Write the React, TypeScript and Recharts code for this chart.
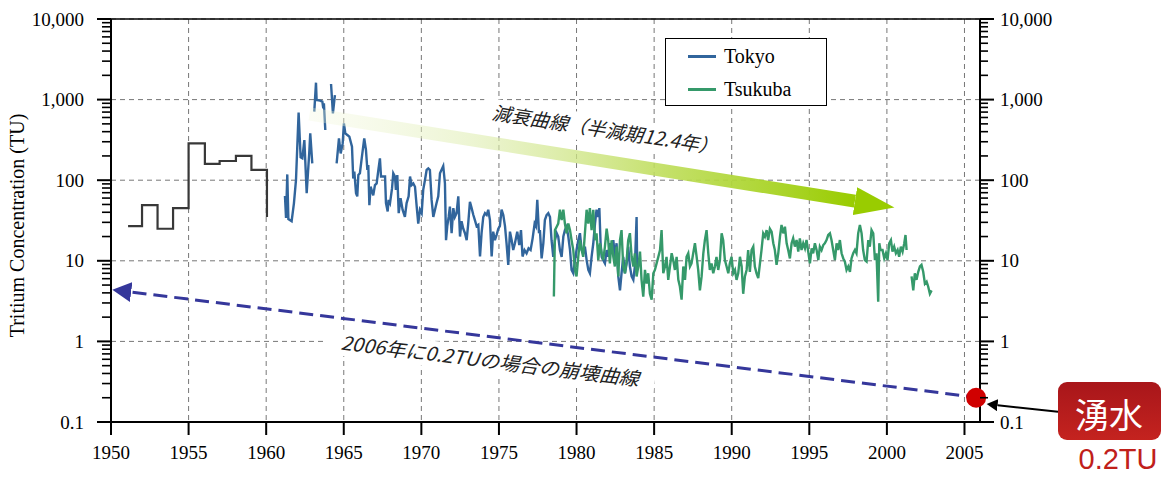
import { LineChart, Line, XAxis, YAxis, CartesianGrid, ReferenceLine, ReferenceDot, Legend } from 'recharts'

const SERIF = '"Liberation Serif", "Times New Roman", serif'
const JP = '"Noto Sans CJK JP", sans-serif'

const X_TICKS = [1950, 1955, 1960, 1965, 1970, 1975, 1980, 1985, 1990, 1995, 2000, 2005]
const Y_MAJOR = [0.1, 1, 10, 100, 1000, 10000]
const MINOR_STEPS = [2, 3, 4, 5, 6, 7, 8, 9]
const Y_TICKS = [...Y_MAJOR, ...Y_MAJOR.slice(0, -1).flatMap((d) => MINOR_STEPS.map((m) => d * m))]

// [year, TU] -- yearly precipitation estimates before 1961
const fallout1950s: [number, number][] = [
  [1951.1, 27], [1952, 49], [1953, 25], [1954, 45], [1955, 287],
  [1956.05, 159], [1957, 173], [1958.05, 200], [1959.05, 134], [1960.05, 35],
]

const tokyo: [number, number | null][] = [
  [1961.21, 64], [1961.28, 34], [1961.36, 118], [1961.43, 33], [1961.64, 31], [1961.79, 52], [1961.92, 100],
  [1962.09, 689], [1962.22, 192], [1962.33, 187], [1962.46, 315], [1962.61, 69], [1962.78, 226], [1962.84, 381],
  [1962.97, 162], [1963.03, null],
  [1963.10, 708], [1963.21, 1622], [1963.25, 988], [1963.47, 970], [1963.62, 942], [1963.68, 778], [1963.72, 898],
  [1963.81, 420], [1964.0, null],
  [1964.18, 1560], [1964.30, 675], [1964.43, 1140], [1964.49, null],
  [1964.54, 162], [1964.69, 330], [1964.80, 215], [1964.93, 286], [1965.01, 507], [1965.10, 381], [1965.23, 364],
  [1965.36, 347], [1965.53, 261], [1965.61, 105], [1965.68, 128], [1965.79, 69], [1965.87, 63], [1965.94, 116],
  [1966.04, 122], [1966.17, 196], [1966.32, 330], [1966.43, 237], [1966.52, 134], [1966.58, 154], [1966.65, 49],
  [1966.73, 83], [1966.90, 65], [1967.01, 87], [1967.12, 91], [1967.23, 134], [1967.33, 187], [1967.40, 111],
  [1967.66, 111], [1967.72, 52], [1967.83, 41], [1967.89, 57], [1967.98, 52], [1968.11, 79], [1968.19, 122],
  [1968.30, 111], [1968.36, 76], [1968.45, 116], [1968.54, 39], [1968.66, 60], [1968.79, 43], [1968.94, 35],
  [1969.05, 52], [1969.18, 63], [1969.27, 111], [1969.37, 87], [1969.48, 91], [1969.59, 83], [1969.70, 47],
  [1969.80, 29], [1969.91, 43], [1970.02, 39], [1970.12, 76], [1970.23, 100], [1970.34, 134], [1970.45, 140],
  [1970.55, 134], [1970.66, 57], [1970.77, 35], [1970.88, 43], [1970.98, 52], [1971.09, 63], [1971.20, 122],
  [1971.41, 150], [1971.52, 91], [1971.59, 18], [1971.67, 27], [1971.76, 35], [1971.84, 47], [1971.95, 22],
  [1972.06, 45], [1972.16, 35], [1972.27, 39], [1972.38, 63], [1972.49, 20], [1972.59, 31], [1972.70, 25],
  [1972.81, 22], [1972.92, 18], [1973.02, 29], [1973.13, 54], [1973.24, 45], [1973.35, 37], [1973.45, 32],
  [1973.56, 27], [1973.67, 28], [1973.78, 11.3], [1973.88, 22], [1973.99, 35], [1974.10, 39], [1974.21, 37],
  [1974.31, 43], [1974.42, 32], [1974.53, 11.3], [1974.63, 23], [1974.74, 18], [1974.85, 21], [1974.96, 25],
  [1975.06, 27], [1975.17, 43], [1975.28, 37], [1975.39, 27], [1975.49, 16.5], [1975.60, 8.9], [1975.71, 23],
  [1975.82, 18], [1975.92, 13.6], [1976.03, 16.5], [1976.18, 23], [1976.31, 15.7], [1976.42, 24], [1976.52, 11.3],
  [1976.65, 13.6], [1976.78, 12.4], [1976.91, 14.3], [1977.04, 13.6], [1977.17, 19], [1977.30, 29], [1977.38, 27],
  [1977.47, 57], [1977.58, 22], [1977.64, 24], [1977.75, 10.7], [1977.86, 16.5], [1977.96, 32], [1978.07, 37],
  [1978.18, 39], [1978.29, 35], [1978.39, 18], [1978.50, 11.2], [1978.61, 18], [1978.72, 22], [1978.82, 20],
  [1978.93, 13.6], [1979.04, 11.2], [1979.15, 20], [1979.25, 24], [1979.36, 26.5], [1979.47, 20], [1979.58, 13.6],
  [1979.68, 7.7], [1979.79, 7.0], [1979.90, 10.2], [1980.00, 13.6], [1980.11, 18], [1980.22, 22], [1980.33, 13.6],
  [1980.43, 12.4], [1980.54, 15], [1980.65, 10.2], [1980.76, 7.7], [1980.86, 7.0], [1980.97, 11.2], [1981.08, 16.5],
  [1981.19, 29], [1981.29, 43], [1981.40, 35], [1981.47, 45], [1981.55, 16.5], [1981.62, 11.2], [1981.72, 10.2],
  [1981.83, 9.3], [1981.94, 13.6], [1982.04, 11.2], [1982.15, 16.5], [1982.26, 13.6], [1982.37, 18], [1982.47, 11.2],
  [1982.58, 16.5], [1982.69, 6.4], [1982.80, 4.3], [1982.90, 7.0], [1983.01, 11.2], [1983.12, 7.0], [1983.23, 9.3],
  [1983.33, 15], [1983.44, 8.5], [1983.55, 6.4], [1983.66, 5.8], [1983.76, 8.5], [1983.87, 35], [1983.91, 7.7],
]

const tsukuba: [number, number | null][] = [
  [1978.54, 3.6], [1978.61, 24], [1978.72, 26.5], [1978.82, 29], [1978.93, 43], [1979.04, 32], [1979.15, 43],
  [1979.25, 29], [1979.36, 22], [1979.47, 29], [1979.58, 24], [1979.68, 18], [1979.79, 13.6], [1979.90, 7.7],
  [1980.00, 6.4], [1980.11, 11.2], [1980.22, 18], [1980.33, 13.6], [1980.43, 11.2], [1980.54, 22], [1980.65, 43],
  [1980.76, 29], [1980.86, 45], [1980.97, 24], [1981.08, 43], [1981.19, 18], [1981.29, 22], [1981.40, 10.2],
  [1981.51, 16.5], [1981.62, 12.4], [1981.72, 10.2], [1981.83, 15], [1981.94, 25], [1982.04, 18], [1982.15, 9.3],
  [1982.26, 18], [1982.37, 11.2], [1982.47, 8.5], [1982.58, 15], [1982.69, 6.4], [1982.80, 18], [1982.90, 24],
  [1983.01, 8.5], [1983.12, 7.0], [1983.23, 10.2], [1983.33, 18], [1983.44, 22], [1983.55, 11.2], [1983.66, 8.5],
  [1983.76, 12.4], [1983.87, 6.4], [1983.98, 8.5], [1984.09, 13], [1984.19, 5.8], [1984.30, 3.6], [1984.41, 7.7],
  [1984.52, 5.2], [1984.62, 7.0], [1984.73, 3.9], [1984.84, 3.3], [1984.95, 7.0], [1985.05, 7.7], [1985.16, 9.3],
  [1985.27, 11.2], [1985.38, 13.6], [1985.48, 24], [1985.59, 7.0], [1985.70, 8.5], [1985.80, 11.2], [1985.91, 5.8],
  [1986.02, 8.5], [1986.13, 12.4], [1986.23, 10.2], [1986.34, 7.7], [1986.45, 11.2], [1986.56, 5.8], [1986.66, 4.8],
  [1986.77, 3.3], [1986.88, 8.5], [1986.99, 5.8], [1987.09, 11.2], [1987.20, 12.4], [1987.31, 8.5], [1987.41, 9.3],
  [1987.52, 12.4], [1987.63, 16.5], [1987.74, 11.2], [1987.84, 7.7], [1987.95, 4.3], [1988.06, 6.4], [1988.17, 12.4],
  [1988.27, 18], [1988.38, 24], [1988.49, 12.4], [1988.59, 7.7], [1988.70, 9.3], [1988.81, 7.0], [1988.92, 8.5],
  [1989.02, 11.2], [1989.13, 7.7], [1989.24, 10.2], [1989.35, 22], [1989.45, 18], [1989.56, 10.2], [1989.67, 8.5],
  [1989.78, 7.0], [1989.88, 9.3], [1989.99, 11.2], [1990.10, 7.0], [1990.21, 7.7], [1990.31, 5.8], [1990.42, 7.0],
  [1990.53, 11.2], [1990.64, 8.5], [1990.74, 3.9], [1990.85, 6.4], [1990.96, 7.7], [1991.06, 13.6], [1991.17, 7.3],
  [1991.28, 13.6], [1991.39, 15], [1991.49, 8.5], [1991.60, 7.0], [1991.71, 6.1], [1991.82, 9.3], [1991.92, 13.6],
  [1992.03, 21.9], [1992.14, 19.9], [1992.25, 24], [1992.35, 18.1], [1992.46, 25], [1992.57, 23], [1992.68, 16.5],
  [1992.78, 13.6], [1992.89, 8.9], [1993.0, 12.4], [1993.11, 19.9], [1993.21, 27.8], [1993.32, 21.9], [1993.43, 26.5],
  [1993.54, 16.5], [1993.64, 13.6], [1993.75, 10.7], [1993.86, 16.5], [1993.96, 19], [1994.07, 15], [1994.18, 18.1],
  [1994.29, 13], [1994.39, 19], [1994.50, 13.6], [1994.61, 16.5], [1994.72, 14.3], [1994.82, 18.1], [1994.93, 13],
  [1995.04, 9.3], [1995.15, 14.3], [1995.25, 12.4], [1995.36, 16.5], [1995.47, 13.6], [1995.58, 10.2], [1995.68, 15],
  [1995.79, 13.6], [1995.90, 15.7], [1996.0, 16.5], [1996.11, 18.1], [1996.22, 20.9], [1996.33, 21.9], [1996.43, 18.1],
  [1996.54, 13.6], [1996.65, 10.2], [1996.76, 16.5], [1996.86, 13.6], [1996.97, 18.1], [1997.08, 12.4], [1997.19, 10.7],
  [1997.29, 9.8], [1997.40, 7.7], [1997.51, 8.5], [1997.62, 7.3], [1997.72, 10.7], [1997.83, 12.4], [1997.94, 13.6],
  [1998.04, 12.4], [1998.15, 21.9], [1998.26, 27.8], [1998.37, 21.9], [1998.47, 13.6], [1998.58, 10.2], [1998.69, 9.8],
  [1998.80, 18.1], [1998.90, 15], [1999.01, 24], [1999.12, 21.9], [1999.23, 10.2], [1999.33, 12.4], [1999.44, 3.1],
  [1999.51, 16.5], [1999.59, 13.6], [1999.72, 13.6], [1999.83, 10.7], [1999.94, 12.4], [2000.04, 10.2], [2000.15, 16.5],
  [2000.26, 18.1], [2000.36, 13], [2000.47, 15], [2000.58, 12.4], [2000.69, 13.6], [2000.79, 11.2], [2000.90, 15],
  [2001.01, 13], [2001.12, 16.5], [2001.20, 20.9], [2001.27, 13.6], [2001.43, null],
  [2001.59, 6.4], [2001.70, 4.3], [2001.80, 7.0], [2001.91, 5.8], [2002.02, 7.3], [2002.13, 8.5], [2002.23, 8.9],
  [2002.34, 7.3], [2002.45, 5.2], [2002.56, 5.5], [2002.66, 4.8], [2002.77, 3.9], [2002.88, 4.3],
]

// decay guide (half-life 12.4 y), drawn as arrow shaft
const decayArrow: [number, number][] = [[1962.8, 662], [1997.94, 55]]
// collapse curve back from 0.2 TU in 2006
const collapseCurve: [number, number][] = [[2006, 0.2], [1951.3, 4.1]]
const springWater: [number, number] = [2005.75, 0.2]

const toPoints = (rows: [number, number | null][]) => rows.map(([x, y]) => ({ x, y }))

const isMajor = (v: number) => Math.abs(Math.log10(v) - Math.round(Math.log10(v))) < 1e-6
const fmt = (v: number) => (v >= 1 ? v.toLocaleString('en-US') : String(v))

const LeftTick = (props: any) => {
  const { x, y, payload } = props
  const major = isMajor(payload.value)
  const axisX = x + 27
  return (
    <g>
      <line x1={axisX - (major ? 14 : 9)} x2={axisX} y1={y} y2={y} stroke="#000" strokeWidth={major ? 2 : 1.6} />
      {major && (
        <text x={x} y={y} dy={6.5} textAnchor="end" fontFamily={SERIF} fontSize={19} fill="#000">
          {fmt(payload.value)}
        </text>
      )}
    </g>
  )
}

const RightTick = (props: any) => {
  const { x, y, payload } = props
  const major = isMajor(payload.value)
  const axisX = x - 20
  return (
    <g>
      <line x1={axisX} x2={axisX + (major ? 14 : 8)} y1={y} y2={y} stroke="#000" strokeWidth={major ? 2 : 1.6} />
      {major && (
        <text x={x} y={y} dy={6.5} textAnchor="start" fontFamily={SERIF} fontSize={19} fill="#000">
          {fmt(payload.value)}
        </text>
      )}
    </g>
  )
}

const renderLegend = ({ payload }: any) => {
  const items = (payload ?? []).filter((p: any) => p.value === 'Tokyo' || p.value === 'Tsukuba')
  return (
    <div
      style={{
        position: 'relative',
        width: 162,
        height: 68,
        boxSizing: 'border-box',
        border: '1.5px solid #000',
        background: '#fff',
        fontFamily: SERIF,
        fontSize: 20,
      }}
    >
      {items.map((p: any, i: number) => (
        <div key={p.value} style={{ position: 'absolute', left: 22, top: 5 + i * 33, height: 24, display: 'flex', alignItems: 'center' }}>
          <span style={{ display: 'inline-block', width: 28, height: 3, background: p.color, marginRight: 8 }} />
          <span style={{ color: '#000' }}>{p.value}</span>
        </div>
      ))}
    </div>
  )
}

const AxisTitle = ({ viewBox }: any) => {
  const cy = viewBox.y + viewBox.height / 2 + 5
  return (
    <text transform={`translate(24, ${cy}) rotate(-90)`} textAnchor="middle" fontFamily={SERIF} fontSize={20} fill="#000">
      Tritium Concentration (TU)
    </text>
  )
}

export default function App() {
  return (
    <div style={{ position: 'relative', width: 1168, height: 477, background: '#fff' }}>
      <style>{'body{margin:0;background:#fff}'}</style>
      <LineChart width={1168} height={477} margin={{ top: 19, right: 0, bottom: 0, left: 0 }}>
        <defs>
          <linearGradient id="greenGrad" x1="0" y1="0" x2="1" y2="0">
            <stop offset="0" stopColor="#f2f7dc" stopOpacity={0.3} />
            <stop offset="0.3" stopColor="#e0eeb4" stopOpacity={0.6} />
            <stop offset="0.65" stopColor="#bedd5a" stopOpacity={0.9} />
            <stop offset="1" stopColor="#99cc00" stopOpacity={1} />
          </linearGradient>
          <marker id="greenHead" markerUnits="userSpaceOnUse" markerWidth="41" markerHeight="28" refX="0" refY="14" orient="auto">
            <path d="M0,0 L40,14 L0,28 z" fill="#99cc00" />
          </marker>
          <marker id="blueHead" markerUnits="userSpaceOnUse" markerWidth="20" markerHeight="20" refX="0" refY="10" orient="auto">
            <path d="M0,0 L19,10 L0,20 z" fill="#35379b" />
          </marker>
        </defs>
        <CartesianGrid
          yAxisId="left"
          stroke="#777"
          strokeDasharray="5 4"
          horizontalValues={Y_MAJOR}
          verticalValues={X_TICKS}
        />
        <XAxis
          dataKey="x"
          type="number"
          domain={[1950, 2006]}
          ticks={X_TICKS}
          interval={0}
          allowDataOverflow
          height={55}
          tickSize={13}
          tickMargin={11}
          axisLine={{ stroke: '#000', strokeWidth: 2 }}
          tickLine={{ stroke: '#000', strokeWidth: 2 }}
          tick={{ fill: '#000', fontSize: 19, fontFamily: SERIF }}
        />
        <YAxis
          yAxisId="left"
          type="number"
          scale="log"
          domain={[0.1, 10000]}
          allowDataOverflow
          ticks={Y_TICKS}
          interval={0}
          width={111}
          tickSize={14}
          tickMargin={13}
          tickLine={false}
          tick={LeftTick}
          axisLine={{ stroke: '#000', strokeWidth: 2 }}
          label={{ content: AxisTitle }}
        />
        <YAxis
          yAxisId="right"
          orientation="right"
          type="number"
          scale="log"
          domain={[0.1, 10000]}
          allowDataOverflow
          ticks={Y_TICKS}
          interval={0}
          width={188}
          tickSize={14}
          tickMargin={6}
          tickLine={false}
          tick={RightTick}
          axisLine={{ stroke: '#000', strokeWidth: 2 }}
        />
        <ReferenceLine yAxisId="left" y={10000} stroke="#000" strokeWidth={1.5} />
        <Legend
          layout="vertical"
          align="center"
          verticalAlign="middle"
          content={renderLegend}
          wrapperStyle={{ left: 665, top: 38, width: 162, height: 68 }}
        />
        <Line
          yAxisId="left"
          name="Pre-1961"
          data={toPoints(fallout1950s)}
          dataKey="y"
          type="stepAfter"
          stroke="#383838"
          strokeWidth={2.2}
          dot={false}
          activeDot={false}
          legendType="none"
          isAnimationActive={false}
        />
        <Line
          yAxisId="left"
          name="Tokyo"
          data={toPoints(tokyo)}
          dataKey="y"
          type="linear"
          stroke="#31659c"
          strokeWidth={2.4}
          dot={false}
          activeDot={false}
          isAnimationActive={false}
        />
        <Line
          yAxisId="left"
          name="Tsukuba"
          data={toPoints(tsukuba)}
          dataKey="y"
          type="linear"
          stroke="#35996a"
          strokeWidth={2.4}
          dot={false}
          activeDot={false}
          isAnimationActive={false}
        />
        <Line
          yAxisId="left"
          name="decay"
          data={toPoints(decayArrow)}
          dataKey="y"
          type="linear"
          stroke="url(#greenGrad)"
          strokeWidth={13}
          markerEnd="url(#greenHead)"
          dot={false}
          activeDot={false}
          legendType="none"
          isAnimationActive={false}
        />
        <Line
          yAxisId="left"
          name="collapse"
          data={toPoints(collapseCurve)}
          dataKey="y"
          type="linear"
          stroke="#35379b"
          strokeWidth={3}
          strokeDasharray="14 7"
          markerEnd="url(#blueHead)"
          dot={false}
          activeDot={false}
          legendType="none"
          isAnimationActive={false}
        />
        <ReferenceDot yAxisId="left" x={springWater[0]} y={springWater[1]} r={10} fill="#d00000" stroke="none" />
      </LineChart>

      <svg width={1168} height={477} style={{ position: 'absolute', left: 0, top: 0, pointerEvents: 'none' }}>
        <defs>
          <marker id="blackHead" markerUnits="userSpaceOnUse" markerWidth="12" markerHeight="12" refX="0" refY="6" orient="auto">
            <path d="M0,0 L11,6 L0,12 z" fill="#000" />
          </marker>
          <linearGradient id="boxGrad" x1="0" y1="0" x2="0" y2="1">
            <stop offset="0" stopColor="#a8161a" />
            <stop offset="1" stopColor="#c4231f" />
          </linearGradient>
        </defs>
        <g transform="translate(605,130) rotate(8.8)">
          <rect x={-124} y={-14} width={248} height={28} fill="#fff" />
          <text textAnchor="middle" dy="0.36em" fontFamily={JP} fontStyle="italic" fontSize={19} fill="#222" textLength={228} lengthAdjust="spacingAndGlyphs">
            減衰曲線（半減期12.4年）
          </text>
        </g>
        <g transform="translate(490,361) rotate(7)">
          <rect x={-166} y={-13} width={332} height={26} fill="#fff" />
          <text textAnchor="middle" dy="0.36em" fontFamily={JP} fontStyle="italic" fontSize={19} fill="#222" textLength={300} lengthAdjust="spacingAndGlyphs">
            2006年に0.2TUの場合の崩壊曲線
          </text>
        </g>
        <line x1={1058} y1={411.7} x2={997.6} y2={405.2} stroke="#000" strokeWidth={2} markerEnd="url(#blackHead)" />
        <rect x={1058} y={382} width={103} height={58} rx={9} fill="url(#boxGrad)" />
        <text x={1109} y={413} dominantBaseline="central" textAnchor="middle" fontFamily={JP} fontSize={34} fill="#fff">
          湧水
        </text>
        <text x={1118} y={469} textAnchor="middle" fontFamily='"Liberation Sans", Arial, sans-serif' fontSize={29} fill="#c0201a">
          0.2TU
        </text>
      </svg>
    </div>
  )
}
